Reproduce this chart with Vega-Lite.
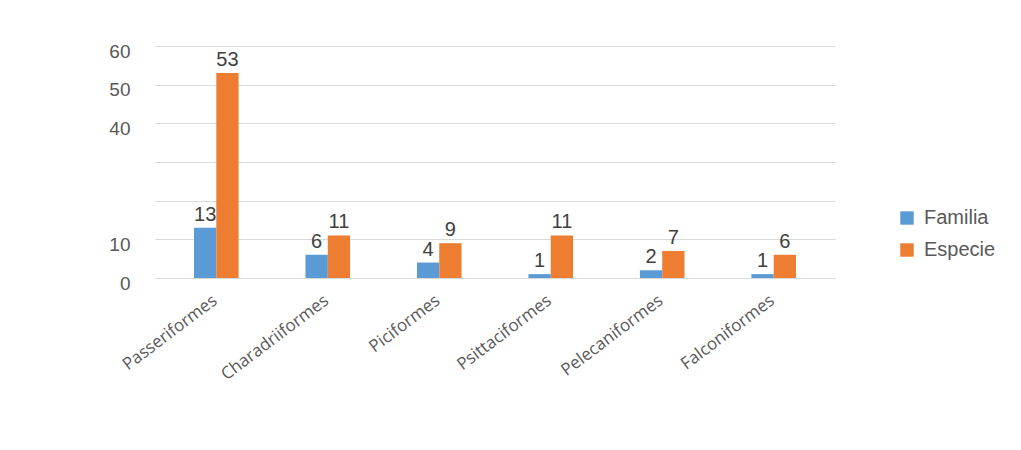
{
  "$schema": "https://vega.github.io/schema/vega-lite/v6.json",
  "autosize": "none",
  "width": 680,
  "height": 232,
  "padding": {"left": 155, "top": 46, "right": 186, "bottom": 172},
  "background": "white",
  "config": {
    "view": {"stroke": null},
    "font": "Liberation Sans"
  },
  "data": {
    "values": [
      {"orden": "Passeriformes", "serie": "Familia", "valor": 13},
      {"orden": "Passeriformes", "serie": "Especie", "valor": 53},
      {"orden": "Charadriiformes", "serie": "Familia", "valor": 6},
      {"orden": "Charadriiformes", "serie": "Especie", "valor": 11},
      {"orden": "Piciformes", "serie": "Familia", "valor": 4},
      {"orden": "Piciformes", "serie": "Especie", "valor": 9},
      {"orden": "Psittaciformes", "serie": "Familia", "valor": 1},
      {"orden": "Psittaciformes", "serie": "Especie", "valor": 11},
      {"orden": "Pelecaniformes", "serie": "Familia", "valor": 2},
      {"orden": "Pelecaniformes", "serie": "Especie", "valor": 7},
      {"orden": "Falconiformes", "serie": "Familia", "valor": 1},
      {"orden": "Falconiformes", "serie": "Especie", "valor": 6}
    ]
  },
  "encoding": {
    "x": {
      "field": "orden",
      "type": "nominal",
      "sort": ["Passeriformes", "Charadriiformes", "Piciformes", "Psittaciformes", "Pelecaniformes", "Falconiformes"],
      "scale": {"paddingInner": 0.6, "paddingOuter": 0.35},
      "axis": {
        "title": null,
        "labelAngle": -37,
        "labelFont": "Open Sans",
        "labelFontSize": 17,
        "labelColor": "#595959",
        "labelPadding": 14,
        "labelOffset": -6,
        "ticks": false,
        "domainColor": "#D9D9D9"
      }
    },
    "xOffset": {
      "field": "serie",
      "type": "nominal",
      "sort": ["Familia", "Especie"],
      "scale": {"paddingInner": 0}
    },
    "y": {
      "field": "valor",
      "type": "quantitative",
      "scale": {"domain": [0, 60], "nice": false},
      "axis": {
        "title": null,
        "values": [0, 10, 20, 30, 40, 50, 60],
        "labelExpr": "datum.value == 20 || datum.value == 30 ? '' : datum.label",
        "labelFontSize": 19,
        "labelColor": "#595959",
        "labelPadding": 25,
        "labelOffset": 5,
        "ticks": false,
        "domain": false,
        "gridColor": "#D9D9D9"
      }
    }
  },
  "layer": [
    {
      "mark": {"type": "bar", "stroke": null},
      "encoding": {
        "color": {
          "field": "serie",
          "type": "nominal",
          "sort": ["Familia", "Especie"],
          "scale": {"domain": ["Familia", "Especie"], "range": ["#5B9BD5", "#ED7D31"]},
          "legend": {
            "title": null,
            "orient": "none",
            "legendX": 742,
            "legendY": 162,
            "symbolType": "square",
            "symbolSize": 180,
            "symbolStrokeWidth": 0,
            "labelFontSize": 20,
            "labelColor": "#595959",
            "labelOffset": 7,
            "rowPadding": 12
          }
        }
      }
    },
    {
      "mark": {"type": "text", "dy": -13, "fontSize": 20, "color": "#404040"},
      "encoding": {
        "text": {"field": "valor", "type": "quantitative"}
      }
    }
  ]
}
